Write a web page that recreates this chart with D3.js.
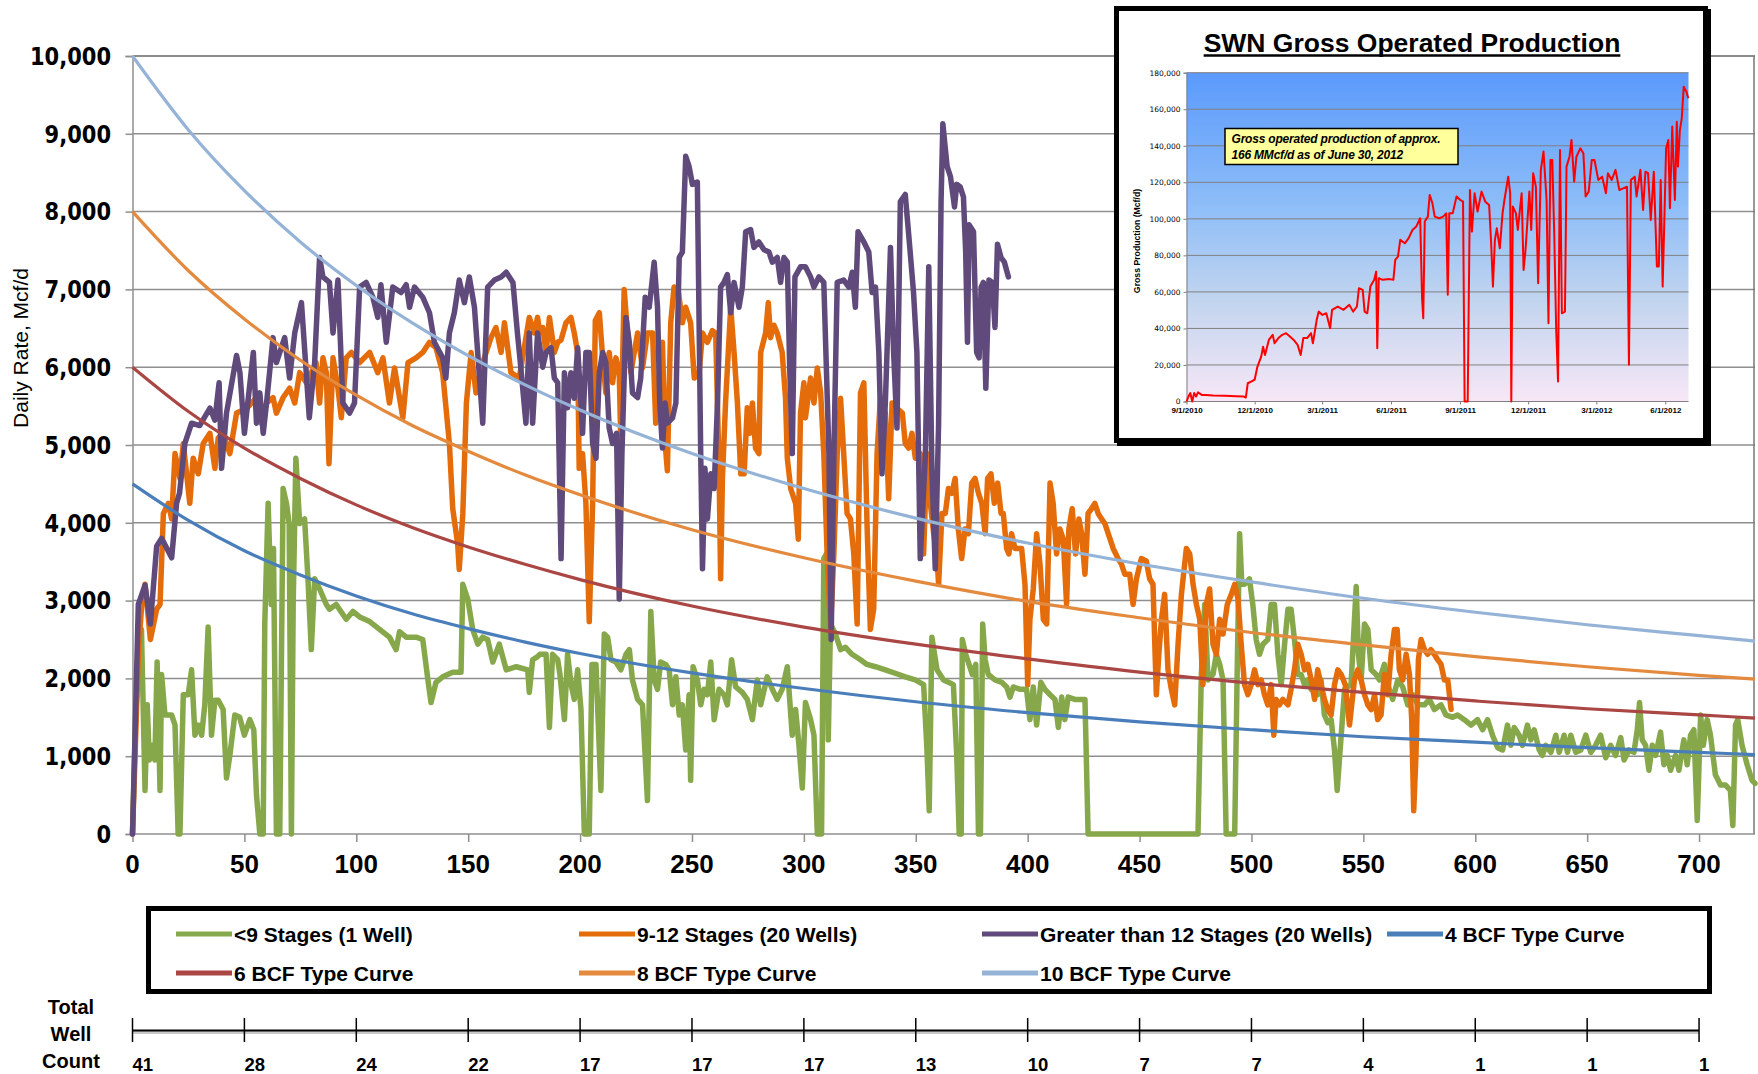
<!DOCTYPE html>
<html>
<head>
<meta charset="utf-8">
<script src="https://cdn.jsdelivr.net/npm/d3@7"></script>
<style>
  body { margin: 0; background: #fff; }
  svg { display: block; }
</style>
</head>
<body>
<div id="chart"></div>
<script>
// ---- data ----
// [day, Mcf/d]
var lessThan9 = [[0,0],[1.5,1600],[4,2630],[5.6,560],[6.6,1660],[7.5,950],[9,1140],[10,950],[11,2210],[12.3,560],[13,2050],[14.5,1530],[17.5,1530],[19,1400],[20.4,0],[21.2,0],[22.7,1790],[24.9,1790],[26.4,2110],[27.9,1270],[29.4,1400],[30.9,1270],[32.3,1660],[33.8,2660],[35.3,1270],[36.8,1720],[38.3,1720],[40.5,1600],[42,720],[43.5,1010],[45.7,1530],[47.9,1500],[50,1270],[52.4,1470],[54.2,1340],[55.4,500],[56.9,0],[58.4,0],[59.1,2700],[60.6,4250],[62,2950],[63,3670],[64.3,0],[65.8,0],[67.3,4440],[68.8,4250],[70,3990],[71,0],[71.8,2950],[73,4830],[74.7,3990],[76.9,4050],[78.4,3280],[79.9,2370],[81.4,3280],[83.6,3150],[86.6,2950],[88,2890],[91,2950],[95.5,2760],[98.5,2860],[101.5,2790],[106,2730],[110.4,2630],[114.8,2530],[117.8,2370],[119.3,2600],[122.3,2530],[126.7,2530],[129.7,2500],[132,1980],[133.4,1690],[135.6,1950],[138.6,2020],[143.1,2080],[146.8,2080],[147.6,3210],[149.8,3020],[152,2630],[154.3,2440],[156.5,2530],[158.7,2500],[161,2210],[163.9,2440],[167,2110],[171.5,2150],[176.6,2110],[177.3,1820],[178.8,2240],[181,2280],
  [182,2310],[184.8,2310],[186.3,1370],[187.7,2310],[190,2240],[191,2050],[193,1470],[194.4,2310],[196,1920],[197.4,1730],[198.9,2110],[200.4,1600],[201.9,0],[204.1,0],[205.3,2180],[207.1,2180],[209.3,560],[210.8,2570],[212.3,2530],[213.8,2240],[216,2210],[218.2,2110],[220.5,2310],[222,2370],[223.4,1980],[225.7,1730],[227.9,1660],[230.1,430],[231.6,2860],[233.1,1980],[234.6,1860],[236,2210],[238.3,2180],[239.8,2110],[241.3,1660],[242.8,2020],[244.3,1530],[245.7,1660],[247.2,1080],[248.7,1790],[249.4,690],[250.5,2150],[252.4,1980],[253.9,1660],[255.4,1860],[256.9,1790],[258.4,2210],[259.9,1470],[262.1,1860],[264.3,1790],[265.8,1660],[267.7,2240],[269.5,1890],[272.5,1820],[274.7,1730],[277,1470],[279.2,1980],[280.7,1660],[283.6,2020],[285.9,1860],[288.1,1730],[290.3,1860],[292.6,2150],[294.8,1270],[296.3,1600],[297.8,1140],[299.3,590],[300.7,1690],[303,1470],[304.5,1270],[306,0],[307.9,0],[308.9,3540],[310,3600],[310.9,1210],[311.9,2700],[314.1,2570],[316.4,2370],[318.6,2400],[321.5,2310],[325.3,2240],[328.2,2180],[332,2150],[336.4,2110],[342.4,2050],[345.3,2020],[349.8,1980],[353.5,1920],[355,1080],[356,300],[357.2,2530],[359.5,2110],[362.4,1980],
  [364.6,1950],[366.8,1920],[368.3,1010],[369.4,0],[370.3,0],[370.8,2500],[372.3,2310],[373.8,2180],[375.3,2050],[376.8,2180],[378,0],[378.9,0],[379.9,2700],[381,2240],[382.4,2050],[385.4,1980],[388.4,1950],[390.6,1890],[392.1,1760],[393.6,1890],[396.6,1860],[399.5,1860],[401,1470],[402.5,1890],[404,1400],[405.9,1950],[407.7,1860],[410,1790],[412.2,1730],[413.7,1370],[415.2,1760],[416.6,1470],[418.1,1760],[421.1,1730],[424.1,1730],[425.6,1730],[427,0],[476.1,0],[477.6,2050],[479.1,2950],[480.6,1980],[482.8,2050],[484.3,2310],[485.8,2180],[487.3,1980],[488.7,0],[492.5,0],[493.7,2240],[494.7,3860],[495.7,3210],[496.9,3210],[499.1,3280],[500.6,2950],[502.1,2500],[503.6,2310],[505.1,2440],[507.3,2500],[508.8,2950],[510.3,2950],[511.8,2310],[513.3,1920],[514.8,2440],[516.3,2890],[517.7,2890],[519.2,2500],[520.7,2050],[522.2,2050],[523.7,1920],[525.2,1980],[526.7,1860],[528.2,1920],[529.6,1790],[531.1,1980],[532.6,1530],[534.1,1430],[535.6,1470],[537.1,1080],[538.3,560],
  [541.6,1860],[544.5,1920],[546.8,3180],[547.8,2310],[549,1980],[550.5,2700],[552,2630],[553.5,2110],[555.7,2050],[557.2,1980],[559.4,2180],[560.9,1920],[563.1,1730],[565.4,1980],[567.6,1890],[569.8,1660],[572.1,1790],[574.3,1660],[577.3,1660],[579.5,1730],[581.7,1600],[584.7,1660],[586.9,1530],[589.9,1500],[592.1,1530],[595.1,1470],[598.1,1400],[601,1470],[603.3,1340],[605.5,1470],[607.7,1270],[610,1110],[612.2,1080],[614.4,1400],[615.9,1140],[617.4,1370],[619.6,1270],[621.1,1140],[623.3,1400],[624.8,1210],[626.3,1340],[628.6,1080],[630,1010],[631.5,1140],[633.8,1050],[636,1270],[637.5,1050],[639.7,1270],[641.2,1050],[642.7,1270],[644.9,1050],[647.2,1080],[649.4,1270],[651.6,1050],[653.8,1140],[656,1270],[658.3,980],[660.5,1140],[662.7,1010],[665,1240],[666.5,950],[668.7,1080],[670.9,1050],[672.4,1340],[673.4,1690],[674.6,1210],[676.1,1140],[677.6,820],[679.1,1140],[680.6,1010],[682.8,1310],[684.3,890],[685.8,1010],[687.3,820],[689.5,1010],[691,820],[693.2,1210],[694.7,890],[696.2,1270],[697.7,1340],[699.2,175],[700.7,1530],[701.9,1140],[703.6,1470],[705.1,1270],[707.3,760],[709.6,630],[711.8,630],[714,560],[715.1,110],[716.3,1400],[717.3,1470],[719.2,1140],[721.5,890],[723.7,690],[725,650]];

var stages9to12 = [[0,0],[2.6,2310],[4.1,2950],[5.6,3210],[8,2500],[10.8,2890],[12.3,2950],[13.8,4120],[16,4250],[17.5,4050],[19,4890],[21.2,4570],[22.7,5020],[25.6,4250],[27.1,4830],[29.4,4630],[31.6,5020],[34.6,5150],[36.8,4700],[38.3,5090],[40.5,5150],[43.5,4890],[46.5,5410],[51,5470],[55.4,5610],[57.6,5280],[59.9,5540],[62.8,5610],[64.3,5410],[67.3,5610],[70.2,5730],[72.5,5540],[74.7,5930],[77.7,5800],[79.9,5930],[82,6060],[83.6,5540],[85.1,6120],[86.6,5930],[87.8,4760],[89.6,6120],[91.8,5730],[93.3,5350],[95.5,6120],[97.8,6190],[101.5,6060],[106,6190],[109.6,5930],[111.9,6120],[114.8,5540],[117.1,5990],[120.8,5350],[123.1,6060],[126.7,6120],[129.7,6190],[132.7,6320],[135.6,6250],[138.6,5930],[141.6,5020],[143.1,4180],[145.3,3730],[146,3400],[147.6,4120],[149.2,5540],[151.3,6190],[153.5,5670],[156.5,6060],[160.2,6380],[162.4,6510],[164.7,6190],[166.2,6570],[169.1,5930],[172.8,5860],[174.3,6120],[177.3,6640],[179.5,6440],[181,6640],
  [182,6440],[183.3,6510],[184.8,6190],[186.3,6640],[188.5,6190],[190,6320],[191.5,6350],[193.7,6570],[195.9,6640],[197.4,6440],[198.9,6190],[199.6,4700],[201.1,4890],[202.6,4250],[204.1,2730],[205.6,4250],[206.8,6600],[208.6,6700],[210.1,6120],[211.5,5670],[213,6190],[214.5,5800],[216,6120],[217.5,5930],[218.2,5020],[219.7,7000],[221.2,6440],[222.7,5930],[224.2,6190],[225.7,6440],[227.9,5990],[230.1,6440],[232.4,6440],[233.8,5280],[235.3,5800],[236.8,6320],[238,5020],[239,4670],[240.5,6570],[242,7030],[244,6960],[245.7,6570],[247.2,6770],[249.4,6570],[251,5860],[253.2,5930],[254.7,6440],[256.9,6320],[259.1,6470],[260.6,6440],[262.1,4700],[262.8,3280],[263.6,4570],[265,5540],[267.3,6770],[268.8,6190],[270.3,5540],[271.8,4630],[273.3,4630],[274.7,5480],[275.8,5150],[277,5540],[278.4,4960],[279.9,4890],[280.7,6190],[282.9,6440],[284.1,6830],[285.1,6380],[286.6,6540],[288.1,6440],[290.3,6190],[291.8,5600],[292.6,4830],[294.1,4440],[296.3,4250],[297.5,3790],[298.5,5410],[300,5800],[300.7,5350],[303,5860],[304.5,5540],[306,5990],[307.5,5670],[308.9,4890],[310.4,3600],[311.9,2630],[313.4,3600],[314.9,4890],[316.4,5600],[317.8,4890],[319.3,4120],[320.8,4050],[322.3,3600],[323.8,2700],[325.3,5670],[326.8,5800],[328.2,4000],[329.7,2630],[331.2,2890],[332.7,4890],[334.2,5600],[336.4,5410],[337.9,4310],[339.4,5540],[341.6,5470],[344,5410],[345.3,5020],[346.8,4960],[348.3,5150],[349.8,4830],[352,4890],[353.5,3600],[355,4890],[356.5,4250],[358,3860],[359.4,3600],[360.2,3210],[361.7,4120],[363.2,4120],
  [364.6,4440],[366.1,4380],[367.6,4570],[369,3920],[370.5,3540],[372,3920],[373.5,3860],[375,4510],[376.5,4570],[378,4380],[379.5,4250],[381,3860],[382.1,4570],[383.6,4630],[385.1,4250],[386.6,4510],[388.1,4120],[389.1,4120],[390.6,3670],[391.6,3600],[392.8,3860],[394.3,3670],[395.8,3670],[397.3,3670],[398.8,3210],[400,1920],[401,2760],[402.5,3150],[404,3860],[405.5,3470],[407,2760],[408.5,2700],[410,4510],[411.4,4250],[412.9,3600],[414.4,3920],[415.9,3790],[417.4,2950],[418.4,3920],[419.9,4180],[421.4,3600],[422.9,4050],[424.1,3860],[425.6,3340],[427,4120],[428.5,4180],[430,4250],[431.5,4120],[433,4050],[434.5,3990],[436,3860],[438.2,3670],[440.4,3540],[441.9,3470],[443.4,3340],[445.6,3340],[447.1,2950],[448.6,3280],[450.8,3540],[453,3510],[454.5,3280],[456,3210],[457.5,1790],[458.6,2310],[459.8,2760],[461.2,3080],[462.7,2110],[464.2,1860],[465.7,1660],[467.2,2440],[468.7,3080],[470.9,3670],[472.4,3600],[473.9,3210],[475.4,2950],[476.9,2760],[478.3,1920],[479.8,2950],[481.3,3150],[482.8,2440],[484.3,2310],[485.8,2760],[487.3,2570],[489.2,2950],[491,3080],[492.5,3210],[494,3020],[495.4,2440],[496.9,1920],[498.4,1790],[499.9,1920],[501.4,2110],[502.9,1920],[504.4,1980],[505.8,1790],[507.3,1660],[508.8,1920],[510,1270],[511,1730],[512.5,1660],[514,1730],[516.3,1660],[517.7,1860],[519.2,2110],[520.7,2440],[522.2,2310],[523.7,2110],[525.2,2180],[526.7,1980],[528.2,1730],[529.6,2110],[531.1,1920],[532.6,1730],[534.1,1600],[535.6,1530],[537.1,1920],
  [538.6,2110],[540.1,2050],[541.9,1920],[543.8,1400],[544.8,1660],[546,1980],[547.5,2110],[549,1980],[550.5,1790],[552,1660],[553.5,1600],[555,1790],[556.4,1470],[557.9,1530],[559.4,2050],[560.9,1790],[562.4,2310],[563.9,2630],[565.1,2630],[566.1,2110],[567.6,1980],[569.1,2310],[570.6,2050],[571.6,1470],[572.5,300],[573.5,1010],[574.6,2240],[575.8,2500],[577.3,2370],[578.7,2310],[580.2,2370],[581.7,2310],[583.2,2240],[584.7,2180],[586.2,1980],[587.7,1980],[589.2,1600]];

var over12 = [[0,0],[2.6,2950],[5.6,3200],[8,2700],[10.8,3700],[13,3800],[17.5,3550],[19.7,4250],[21,4380],[23.4,5020],[26.4,5280],[30,5250],[34.6,5475],[36.8,5320],[38.7,5800],[39.8,4700],[42,5410],[46.5,6150],[48,5930],[50,5150],[54,6190],[55.4,5280],[56.9,5670],[58.4,5150],[59.9,5540],[62.8,6380],[64.3,6060],[68,6380],[70.2,5860],[72.5,6440],[75.5,6830],[79,5350],[81.4,6060],[83.6,7410],[85.1,7160],[88,7090],[89.6,6440],[91.8,7120],[94,5540],[97,5410],[99.2,5540],[101.5,7030],[104.4,7090],[107.4,6900],[109.6,6640],[111,7060],[113.4,6320],[116.3,7030],[120,6960],[122.3,7060],[123.8,6770],[126,7030],[129.7,6900],[132.7,6700],[134.9,6320],[138.6,6120],[140,5860],[141.6,6440],[143.8,6700],[146,7120],[148.3,6830],[150.5,7160],[152.8,6770],[156.5,5280],[158.7,7030],[161.7,7120],[164.7,7160],[167,7220],[170,7090],[172,6440],[173.5,6000],[175.8,5280],[177.3,6440],[178.8,5280],[181,6440],
  [182,6250],[183.3,6000],[184.8,6190],[187,6250],[188.5,5860],[190,5800],[191.5,3540],[193,5930],[194.4,5480],[195.9,5930],[197.4,5600],[198.9,6250],[200.4,5540],[201.1,5150],[202.6,6190],[204.1,6190],[205.6,5020],[207.1,4830],[208.6,5930],[210.1,6190],[211.5,6060],[213,5220],[214.5,5020],[216.3,5150],[217.5,3020],[218.7,4890],[220.5,6640],[222,6320],[223.4,5670],[225.7,5610],[227.1,5860],[229.1,6900],[230.9,6770],[233.1,7350],[234.6,6770],[235.6,5540],[236.8,4960],[238,5540],[239,5280],[241.3,5350],[242.8,5540],[244.3,7410],[245.7,7480],[247.2,8710],[248.7,8580],[250.2,8350],[252.4,8380],[253.9,4890],[254.7,3410],[255.8,4700],[256.9,4050],[258.4,4630],[259.9,4440],[261.4,5540],[262.8,7030],[264.3,7090],[265.8,7190],[267.3,6700],[268.8,7090],[271,6770],[272.5,7030],[274,7740],[276.2,7770],[277.7,7540],[279.9,7610],[282.2,7510],[284.4,7480],[285.9,7350],[288.1,7410],[289.6,7090],[291.1,7410],[292.6,7350],[293.6,6060],[294.8,4890],[296,7160],[298.5,7290],[300.7,7290],[303,7160],[304.5,7030],[306.7,7160],[308.9,7090],[311.2,4890],[312.2,2500],[313.4,4890],[314.9,7090],[317.8,7120],[320.1,7030],[321.6,7220],[323,6770],[324.2,7740],[326.8,7610],[329,7480],[330.5,6960],[332,7030],[333.5,6190],[334.9,4630],[336.4,5540],[338.7,7540],[340.1,6190],[341.6,5220],[343.1,8130],[345.3,8220],[347.5,7480],[349,6960],[350.5,6190],[352,3540],[354.3,4890],[355.8,7290],[357.2,4700],[358.7,3410],[360.2,5280],[361.3,8130],[362.1,9130],[364,8580],
  [365.5,8450],[367.3,8060],[368.3,8350],[369.8,8320],[371.3,8190],[372.3,7480],[373.1,6320],[373.8,7830],[375.8,7740],[377.2,6190],[378.3,6120],[379.2,7030],[380.2,7090],[381.3,5730],[382.7,7120],[384.2,7090],[385.4,6510],[386.5,7580],[388.1,7410],[389.6,7350],[391.4,7160]];

// type curves, read every 25-50 days
var typeCurveDays = [0,25,50,75,100,125,150,175,200,250,300,350,400,450,500,550,600,650,700,725];
var bcf4  = [4500,4030,3640,3330,3060,2830,2640,2470,2320,2070,1870,1700,1560,1440,1340,1250,1180,1110,1050,1020];
var bcf6  = [6000,5430,4960,4570,4230,3940,3690,3470,3270,2930,2660,2440,2250,2080,1940,1820,1710,1610,1530,1490];
var bcf8  = [8000,7240,6620,6090,5640,5250,4920,4620,4360,3910,3550,3250,2990,2780,2590,2430,2280,2150,2040,1990];
var bcf10 = [10000,9050,8270,7610,7050,6570,6150,5780,5450,4890,4440,4060,3740,3470,3240,3030,2850,2690,2550,2480];

var seriesNames = ["<9 Stages (1 Well)", "9-12 Stages (20 Wells)", "Greater than 12 Stages (20 Wells)",
  "4 BCF Type Curve", "6 BCF Type Curve", "8 BCF Type Curve", "10 BCF Type Curve"];
var seriesColors = ["#86a84a", "#e46c0a", "#5f4a7b", "#4a7ebb", "#aa4643", "#e38a3f", "#95b3d7"];

var xTicks = d3.range(0, 701, 50);
var yTicks = d3.range(0, 10001, 1000);
var wellCounts = [41, 28, 24, 22, 17, 17, 17, 13, 10, 7, 7, 4, 1, 1, 1];

// inset: [days after 9/1/2010, thousand Mcf/d]
var insetProduction = [[0,0],[2.6,2.7],[5.1,4.6],[7.7,0],[10.2,4.6],[12.8,2.7],[15.3,5],[20.4,3.6],[25.6,3.6],[35.8,3.3],[51.1,3.1],[66.5,2.9],[76.7,2.7],[79.2,2.2],[81.8,10],[86.9,11],[91,12],[94.6,19],[99.7,24.6],[102.2,30],[104.8,25.5],[109.9,33.7],[115,36.5],[117.6,31.9],[122.7,34.7],[127.8,36.5],[132.9,37.4],[138,35.6],[143.1,33.7],[148.3,31],[152.4,25.5],[155.9,34.7],[161,34.7],[166.2,37.4],[168.7,31.9],[173.8,44.7],[176.4,49.2],[181.5,47.4],[186.6,48.3],[191.7,40.1],[194.3,50.2],[201.9,52],[209.6,50.2],[217.3,52.9],[222.4,49.2],[227.5,52],[230.1,62],[235.2,61.1],[237.7,49.2],[241.3,48.3],[245.4,62.9],[250.5,66.6],[253.1,71.1],[254.6,29.2],[256.6,67.5],[261.8,66.6],[271,67],[276.1,66.6],[278.6,77.5],[282.2,79.3],[285.3,88.5],[291.4,86.6],[296.5,89.4],[301.6,93.9],[306.7,95.8],[311.9,100.3],[314.4,56.5],[316,45.6],[318,98.5],[322.1,101.2],[324.6,113.1],[328.2,108.5],[331.3,101.2],[337.4,100.3],[342.5,101.2],[346.6,103],[348.7,58.4],[350.7,103],[355.3,103],[360.4,112.2],[365.5,110.3],[369.1,109.4],[371.2,0],[375.3,0],[378.3,115.8],[380.9,93],[384.5,114],[388.5,104],[393.7,114.9],[398.8,109.4],[403.9,107.6],[406.4,88.5],[409,62.9],[411.6,88.5],[414.1,94.8],[418.2,83.9],[421.8,103],[424.3,110.3],[429.4,123.1],[432,114],[433.5,0],[435.6,106.7],[439.7,103],[442.2,93.9],[447.3,114],[449.9,72],[452.5,83],[457.6,114.9],[460.1,93.9],[462.7,124.9],[466.3,117.6],[469.3,64.7],[472.9,126.8],[476.5,136.8],[480.6,110.3],[483.1,42.9],[485.7,132.2],[488.2,132.2],[490.8,92.1],[493.4,39.2],[495.9,10.9],[498.5,137.7],[501,48.3],[505.1,49.2],[507.2,128.6],[511.2,134],[513.8,143.2],[517.4,120.4],[520.4,134],[525.6,138.6],[529.7,135.9],[532.7,112.2],[536.8,114.9],[540.9,132.2],[544.5,132.2],[549.6,121.3],[554.7,123.1],[559.8,114],[562.4,124.9],[567.5,121.3],[572.6,126.8],[577.7,115.8],[582.8,116.7],[587.9,117.6],[590.5,20.1],[593.1,121.3],[598.2,123.1],[600.7,112.2],[605.8,126.8],[609.4,104.9],[612.5,125.8],[616,125],[619.6,99.4],[623.7,125.8],[627.8,73.9],[630.4,73.9],[632.9,121.3],[635.5,62.9],[638,103],[640.1,138.6],[643.1,143.2],[645.2,105.8],[648.3,150.5],[651.8,110.3],[654.4,153.2],[655.9,128.6],[658.5,148.6],[661,155],[663.6,172.3],[667.2,169.6],[669.7,166]];
var insetTickDates = ["2010-09-01","2010-12-01","2011-03-01","2011-06-01","2011-09-01","2011-12-01","2012-03-01","2012-06-01"];
var insetYTicks = d3.range(0, 180001, 20000);

// ---- layout ----
var width = 1758, height = 1074;
var plot = {left: 132.5, right: 1755, top: 56, bottom: 834};

var svg = d3.select("#chart").append("svg")
  .attr("width", width)
  .attr("height", height)
  .style("background", "#fff");

var x = d3.scaleLinear().domain([0, 725]).range([plot.left, plot.right]);
var y = d3.scaleLinear().domain([0, 10000]).range([plot.bottom, plot.top]);

// gridlines
svg.append("g")
  .selectAll("line")
  .data(yTicks.filter(function(d){ return d > 0; }))
  .enter().append("line")
  .attr("x1", plot.left).attr("x2", plot.right)
  .attr("y1", function(d){ return y(d); })
  .attr("y2", function(d){ return y(d); })
  .attr("stroke", function(d){ return d === 10000 ? "#666" : "#8f8f8f"; })
  .attr("stroke-width", 1.5);

// right border of the plot area
svg.append("line")
  .attr("x1", plot.right - 1).attr("x2", plot.right - 1)
  .attr("y1", plot.top).attr("y2", plot.bottom)
  .attr("stroke", "#777").attr("stroke-width", 1.5);

// y axis
var yAxis = svg.append("g").attr("transform", "translate(" + plot.left + ",0)")
  .call(d3.axisLeft(y).tickValues(yTicks).tickSize(7).tickFormat(""));
yAxis.selectAll("path, line").attr("stroke", "#8f8f8f").attr("stroke-width", 1.5);

svg.append("g")
  .selectAll("text")
  .data(yTicks)
  .enter().append("text")
  .attr("transform", function(d){ return "translate(111," + y(d) + ") scale(1,1.17)"; })
  .attr("dy", "0.36em")
  .attr("text-anchor", "end")
  .style("font-family", "'DejaVu Sans', Verdana, sans-serif")
  .style("font-weight", "bold")
  .style("font-size", "21px")
  .text(d3.format(","));

// x axis
var xAxis = svg.append("g").attr("transform", "translate(0," + plot.bottom + ")")
  .call(d3.axisBottom(x).tickValues(xTicks).tickSize(8).tickFormat(""));
xAxis.select("path").attr("d", "M" + plot.left + ",0H" + plot.right);
xAxis.selectAll("path, line").attr("stroke", "#8f8f8f").attr("stroke-width", 1.5);

svg.append("g")
  .selectAll("text")
  .data(xTicks)
  .enter().append("text")
  .attr("x", function(d){ return x(d); })
  .attr("y", 873)
  .attr("text-anchor", "middle")
  .style("font-family", "'Liberation Sans', Arial, sans-serif")
  .style("font-weight", "bold")
  .style("font-size", "26px")
  .text(function(d){ return d; });

svg.append("text")
  .attr("transform", "translate(28,348) rotate(-90)")
  .attr("text-anchor", "middle")
  .style("font-family", "'Liberation Sans', Arial, sans-serif")
  .style("font-size", "21px")
  .text("Daily Rate, Mcf/d");

// series
var line = d3.line()
  .x(function(d){ return x(d[0]); })
  .y(function(d){ return y(d[1]); });

var smooth = d3.line()
  .curve(d3.curveMonotoneX)
  .x(function(d){ return x(d[0]); })
  .y(function(d){ return y(d[1]); });

function zipCurve(vals){
  return typeCurveDays.map(function(d, i){ return [d, vals[i]]; });
}

var noisy = [lessThan9, stages9to12, over12];
noisy.forEach(function(s, i){
  svg.append("path")
    .attr("d", line(s))
    .attr("fill", "none")
    .attr("stroke", seriesColors[i])
    .attr("stroke-width", 5.5)
    .attr("stroke-linejoin", "round")
    .attr("stroke-linecap", "round");
});

[bcf4, bcf6, bcf8, bcf10].forEach(function(s, i){
  svg.append("path")
    .attr("d", smooth(zipCurve(s)))
    .attr("fill", "none")
    .attr("stroke", seriesColors[i + 3])
    .attr("stroke-width", 3.2);
});

// legend
svg.append("rect")
  .attr("x", 148.5).attr("y", 908.5)
  .attr("width", 1561).attr("height", 83)
  .attr("fill", "#fff").attr("stroke", "#000").attr("stroke-width", 5);

var legendPos = [[176, 934], [579, 934], [982, 934], [1387, 934], [176, 973], [579, 973], [982, 973]];
var legend = svg.append("g")
  .selectAll("g")
  .data(seriesNames)
  .enter().append("g")
  .attr("transform", function(d, i){ return "translate(" + legendPos[i][0] + "," + legendPos[i][1] + ")"; });

legend.append("line")
  .attr("x1", 0).attr("x2", 56)
  .attr("stroke", function(d, i){ return seriesColors[i]; })
  .attr("stroke-width", 5);

legend.append("text")
  .attr("x", 58)
  .attr("dy", "0.36em")
  .style("font-family", "'Liberation Sans', Arial, sans-serif")
  .style("font-weight", "bold")
  .style("font-size", "21px")
  .text(function(d){ return d; });

// total well count scale
svg.append("line")
  .attr("x1", x(0)).attr("x2", x(700))
  .attr("y1", 1032).attr("y2", 1032)
  .attr("stroke", "#c8c8c8").attr("stroke-width", 4);
svg.append("line")
  .attr("x1", x(0)).attr("x2", x(700))
  .attr("y1", 1030.5).attr("y2", 1030.5)
  .attr("stroke", "#000").attr("stroke-width", 2);

svg.append("g")
  .selectAll("line")
  .data(xTicks)
  .enter().append("line")
  .attr("x1", function(d){ return x(d); })
  .attr("x2", function(d){ return x(d); })
  .attr("y1", 1018).attr("y2", 1042)
  .attr("stroke", "#000").attr("stroke-width", 1.5);

svg.append("g")
  .selectAll("text")
  .data(wellCounts)
  .enter().append("text")
  .attr("x", function(d, i){ return x(xTicks[i]); })
  .attr("y", 1071)
  .style("font-family", "'Liberation Sans', Arial, sans-serif")
  .style("font-weight", "bold")
  .style("font-size", "18.5px")
  .text(function(d){ return d; });

svg.append("g")
  .selectAll("text")
  .data(["Total", "Well", "Count"])
  .enter().append("text")
  .attr("x", 71)
  .attr("y", function(d, i){ return [1014, 1041, 1068][i]; })
  .attr("text-anchor", "middle")
  .style("font-family", "'Liberation Sans', Arial, sans-serif")
  .style("font-weight", "bold")
  .style("font-size", "20px")
  .text(function(d){ return d; });

// ---- inset: SWN gross operated production ----
var inset = svg.append("g");
inset.append("rect")
  .attr("x", 1119.5).attr("y", 11.5).attr("width", 589).attr("height", 432)
  .attr("fill", "#000").attr("stroke", "#000").attr("stroke-width", 5);
inset.append("rect")
  .attr("x", 1116.5).attr("y", 8.5).attr("width", 589).attr("height", 432)
  .attr("fill", "#fff").attr("stroke", "#000").attr("stroke-width", 5);

var title = inset.append("text")
  .attr("x", 1412).attr("y", 52)
  .attr("text-anchor", "middle")
  .style("font-family", "'Liberation Sans', Arial, sans-serif")
  .style("font-weight", "bold")
  .style("font-size", "26.5px")
  .text("SWN Gross Operated Production");
var tw = title.node().getComputedTextLength();
inset.append("line")
  .attr("x1", 1412 - tw / 2).attr("x2", 1412 + tw / 2)
  .attr("y1", 55.5).attr("y2", 55.5)
  .attr("stroke", "#000").attr("stroke-width", 2.5);

var ip = {left: 1186.5, right: 1688.5, top: 72.7, bottom: 401.5};
var start = new Date(2010, 8, 1);
var ix = d3.scaleTime().domain([start, d3.timeDay.offset(start, 670.5)]).range([ip.left, ip.right]);
var iy = d3.scaleLinear().domain([0, 180000]).range([ip.bottom, ip.top]);

var defs = svg.append("defs");
var grad = defs.append("linearGradient")
  .attr("id", "insetBg")
  .attr("x1", "0%").attr("x2", "0%")
  .attr("y1", "0%").attr("y2", "100%");
grad.append("stop").attr("offset", "0%").attr("stop-color", "#5b9afc");
grad.append("stop").attr("offset", "40%").attr("stop-color", "#8dbdf8");
grad.append("stop").attr("offset", "70%").attr("stop-color", "#c3d5ef");
grad.append("stop").attr("offset", "100%").attr("stop-color", "#f7e7f6");

inset.append("rect")
  .attr("x", ip.left).attr("y", ip.top)
  .attr("width", ip.right - ip.left).attr("height", ip.bottom - ip.top)
  .attr("fill", "url(#insetBg)");

inset.append("g")
  .selectAll("line")
  .data(insetYTicks.filter(function(d){ return d > 0; }))
  .enter().append("line")
  .attr("x1", ip.left).attr("x2", ip.right)
  .attr("y1", function(d){ return iy(d); })
  .attr("y2", function(d){ return iy(d); })
  .attr("stroke", "#808080").attr("stroke-width", 1);

var iyAxis = inset.append("g").attr("transform", "translate(" + ip.left + ",0)")
  .call(d3.axisLeft(iy).tickValues(insetYTicks).tickSize(3).tickFormat(d3.format(",")));
iyAxis.selectAll("path, line").attr("stroke", "#808080");
iyAxis.selectAll("text")
  .attr("x", -6)
  .style("font-family", "'DejaVu Sans', Verdana, sans-serif")
  .style("font-size", "7.5px")
  .attr("fill", "#000");

var parseDay = d3.timeParse("%Y-%m-%d");
var ixAxis = inset.append("g").attr("transform", "translate(0," + ip.bottom + ")")
  .call(d3.axisBottom(ix).tickValues(insetTickDates.map(parseDay)).tickSize(3).tickFormat(d3.timeFormat("%-m/%-d/%Y")));
ixAxis.select("path").attr("d", "M" + ip.left + ",0H" + ip.right);
ixAxis.selectAll("path, line").attr("stroke", "#808080");
ixAxis.selectAll("text")
  .attr("y", 6)
  .style("font-family", "'Liberation Sans', Arial, sans-serif")
  .style("font-weight", "bold")
  .style("font-size", "8px")
  .attr("fill", "#000");

inset.append("text")
  .attr("transform", "translate(1139.5,241) rotate(-90)")
  .attr("text-anchor", "middle")
  .style("font-family", "'Liberation Sans', Arial, sans-serif")
  .style("font-weight", "bold")
  .style("font-size", "8.7px")
  .text("Gross Production (Mcf/d)");

inset.append("path")
  .attr("d", d3.line()
    .x(function(d){ return ix(start.getTime() + d[0] * 864e5); })
    .y(function(d){ return iy(d[1] * 1000); })(insetProduction))
  .attr("fill", "none")
  .attr("stroke", "#ff0000")
  .attr("stroke-width", 2)
  .attr("stroke-linejoin", "round");

// annotation
inset.append("rect")
  .attr("x", 1225).attr("y", 128.5).attr("width", 233).attr("height", 36)
  .attr("fill", "#ffff9c").attr("stroke", "#000").attr("stroke-width", 1.5);
inset.append("g")
  .selectAll("text")
  .data(["Gross operated production of approx.", "166 MMcf/d as of June 30, 2012"])
  .enter().append("text")
  .attr("x", 1231.5)
  .attr("y", function(d, i){ return 142.5 + i * 16; })
  .style("font-family", "'Liberation Sans', Arial, sans-serif")
  .style("font-weight", "bold")
  .style("font-style", "italic")
  .style("font-size", "12px")
  .style("letter-spacing", "-0.2px")
  .text(function(d){ return d; });
</script>
</body>
</html>
